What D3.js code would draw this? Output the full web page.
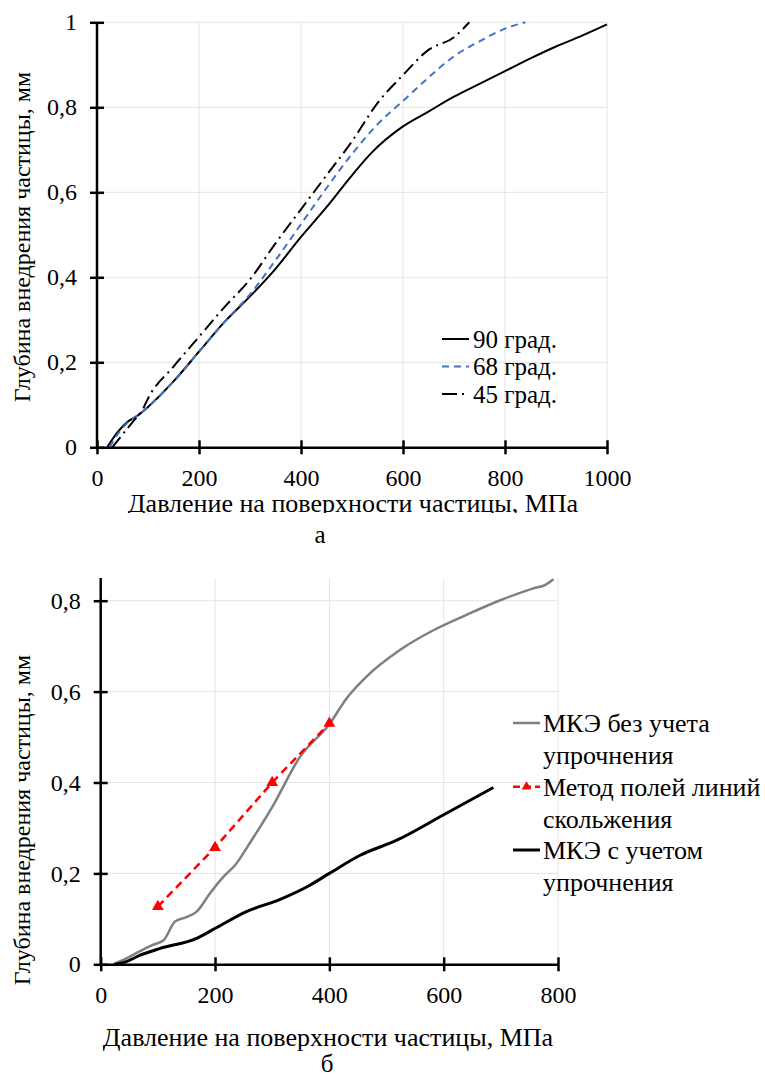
<!DOCTYPE html>
<html>
<head>
<meta charset="utf-8">
<script src="https://cdn.jsdelivr.net/npm/d3@7"></script>
<style>
  html, body { margin: 0; padding: 0; background: #fff; }
  svg { display: block; }
  svg text { font-family: "Liberation Serif", Tinos, "Times New Roman", "DejaVu Serif", serif !important; fill: #000; }
</style>
</head>
<body>
<svg id="chart" width="765" height="1081"></svg>
<script>
// ---------- Chart (а) data ----------
const aXTicks = [0, 200, 400, 600, 800, 1000];
const aYTicks = [0, 0.2, 0.4, 0.6, 0.8, 1];
const aNames = ["90 град.", "68 град.", "45 град."];
const a90X = [20, 40, 60, 80, 100, 150, 200, 250, 300, 350, 400, 450, 500, 540, 600, 650, 700, 750, 800, 850, 900, 950, 1000];
const a90Y = [0, 0.035, 0.06, 0.075, 0.095, 0.155, 0.225, 0.295, 0.355, 0.42, 0.495, 0.565, 0.64, 0.695, 0.755, 0.79, 0.825, 0.855, 0.885, 0.915, 0.943, 0.968, 0.995];
const a68X = [25, 40, 60, 80, 100, 150, 200, 250, 300, 350, 400, 450, 500, 550, 600, 650, 700, 750, 800, 840];
const a68Y = [0, 0.03, 0.058, 0.075, 0.095, 0.155, 0.225, 0.295, 0.36, 0.44, 0.525, 0.61, 0.69, 0.76, 0.815, 0.87, 0.92, 0.955, 0.985, 1.0];
const a45X = [30, 50, 70, 90, 100, 150, 200, 250, 300, 350, 400, 450, 500, 550, 600, 650, 700, 730];
const a45Y = [0, 0.03, 0.06, 0.09, 0.115, 0.19, 0.26, 0.33, 0.395, 0.48, 0.56, 0.64, 0.72, 0.81, 0.876, 0.935, 0.965, 1.0];

// ---------- Chart (б) data ----------
const bXTicks = [0, 200, 400, 600, 800];
const bYTicks = [0, 0.2, 0.4, 0.6, 0.8];
const bNames = [["МКЭ без учета", "упрочнения"], ["Метод полей линий", "скольжения"], ["МКЭ с учетом", "упрочнения"]];
const bFreeX = [22, 45, 69, 90, 110, 130, 150, 168, 191, 215, 235, 264, 300, 349, 401, 430, 465, 524, 582, 640, 699, 757, 778, 792];
const bFreeY = [0, 0.013, 0.029, 0.042, 0.053, 0.094, 0.104, 0.116, 0.156, 0.193, 0.218, 0.273, 0.346, 0.457, 0.530, 0.585, 0.633, 0.692, 0.735, 0.769, 0.801, 0.827, 0.835, 0.847];
const bSlipX = [100, 200, 300, 400];
const bSlipY = [0.127, 0.257, 0.40, 0.53];
const bHardX = [25, 45, 69, 104, 168, 203, 255, 314, 366, 400, 454, 518, 600, 687];
const bHardY = [0, 0.006, 0.02, 0.035, 0.057, 0.081, 0.116, 0.143, 0.174, 0.2, 0.24, 0.273, 0.329, 0.389];

const FONT = '"Liberation Serif", Tinos, "Times New Roman", "DejaVu Serif", serif';
const fmt = d => String(d).replace(".", ",");
const svg = d3.select("#chart").attr("font-family", FONT);
svg.append("rect").attr("width", 765).attr("height", 1081).attr("fill", "#fff");

function drawAxes(g, x, y, xTicks, yTicks, fontSize, yTop) {
  const [y0] = y.range();
  const xa = g.append("g").attr("transform", `translate(0,${y0})`)
    .call(d3.axisBottom(x).tickValues(xTicks).tickFormat(fmt).tickSizeOuter(0))
    .attr("font-family", FONT).attr("font-size", fontSize);
  xa.select(".domain").attr("stroke", "#000").attr("stroke-width", 2.5);
  xa.selectAll(".tick line").attr("y1", -7).attr("y2", 7).attr("stroke", "#000").attr("stroke-width", 2.5);
  xa.selectAll(".tick text").attr("y", 22).attr("dy", "0.71em").attr("fill", "#000");
  const ya = g.append("g").attr("transform", `translate(${x.range()[0]},0)`)
    .call(d3.axisLeft(y).tickValues(yTicks).tickFormat(fmt).tickSizeOuter(0))
    .attr("font-family", FONT).attr("font-size", fontSize);
  ya.select(".domain").attr("d", `M0,${y0}V${yTop}`).attr("stroke", "#000").attr("stroke-width", 2.5);
  ya.selectAll(".tick line").attr("x1", -7).attr("x2", 7).attr("stroke", "#000").attr("stroke-width", 2.5);
  ya.selectAll(".tick text").attr("x", -20).attr("fill", "#000");
}

// ================= Chart (а) =================
{
  const x = d3.scaleLinear().domain([0, 1000]).range([97, 607]);
  const y = d3.scaleLinear().domain([0, 1]).range([447.3, 22.3]);
  const g = svg.append("g");
  g.append("g").selectAll("line").data(aXTicks.slice(1)).join("line")
    .attr("x1", d => x(d)).attr("x2", d => x(d)).attr("y1", y(1)).attr("y2", y(0))
    .attr("stroke", "#e4e4e4").attr("stroke-width", 1);
  g.append("g").selectAll("line").data(aYTicks.slice(1)).join("line")
    .attr("x1", x(0)).attr("x2", x(1000)).attr("y1", d => y(d)).attr("y2", d => y(d))
    .attr("stroke", "#e4e4e4").attr("stroke-width", 1);
  const line = d3.line().x(d => x(d[0])).y(d => y(d[1])).curve(d3.curveMonotoneX);
  const series = [
    { xs: a90X, ys: a90Y, color: "#000", dash: null, w: 2 },
    { xs: a68X, ys: a68Y, color: "#4472C4", dash: "7,5", w: 2 },
    { xs: a45X, ys: a45Y, color: "#000", dash: "13,5,2,5", w: 2 }
  ];
  series.forEach(s => {
    g.append("path").datum(s.xs.map((v, i) => [v, s.ys[i]]))
      .attr("d", line).attr("fill", "none").attr("stroke", s.color)
      .attr("stroke-width", s.w).attr("stroke-dasharray", s.dash);
  });
  drawAxes(g, x, y, aXTicks, aYTicks, 24, 22.3);
  // legend
  const leg = g.append("g");
  series.forEach((s, i) => {
    const ly = 339 + i * 27.5;
    leg.append("line").attr("x1", 442).attr("x2", 469).attr("y1", ly).attr("y2", ly)
      .attr("stroke", s.color).attr("stroke-width", s.w)
      .attr("stroke-dasharray", i === 1 ? "7,5" : (i === 2 ? "15,5,2,5" : null));
    leg.append("text").attr("x", 473).attr("y", ly).attr("dy", "0.35em")
      .style("font-size", "25px").text(aNames[i]);
  });
  // titles
  svg.append("defs").append("clipPath").attr("id", "clipA")
    .append("rect").attr("x", 0).attr("y", 486).attr("width", 765).attr("height", 27);
  g.append("text").attr("x", 353).attr("y", 512).attr("text-anchor", "middle")
    .attr("clip-path", "url(#clipA)")
    .style("font-size", "26px").text("Давление на поверхности частицы, МПа");
  g.append("text").attr("transform", "translate(30,237) rotate(-90)").attr("text-anchor", "middle")
    .style("font-size", "24px").text("Глубина внедрения частицы, мм");
  g.append("text").attr("x", 320).attr("y", 543).attr("text-anchor", "middle")
    .style("font-size", "25px").text("а");
}

// ================= Chart (б) =================
{
  const x = d3.scaleLinear().domain([0, 800]).range([100.7, 558]);
  const y = d3.scaleLinear().domain([0, 0.8]).range([964.3, 600.7]);
  const g = svg.append("g");
  const yTop = y(0.85);
  g.append("g").selectAll("line").data(bXTicks.slice(1)).join("line")
    .attr("x1", d => x(d)).attr("x2", d => x(d)).attr("y1", yTop).attr("y2", y(0))
    .attr("stroke", "#e4e4e4").attr("stroke-width", 1);
  g.append("g").selectAll("line").data(bYTicks.slice(1)).join("line")
    .attr("x1", x(0)).attr("x2", x(800)).attr("y1", d => y(d)).attr("y2", d => y(d))
    .attr("stroke", "#e4e4e4").attr("stroke-width", 1);

  const lineLin = d3.line().x(d => x(d[0])).y(d => y(d[1]));
  const lineSm = d3.line().x(d => x(d[0])).y(d => y(d[1])).curve(d3.curveMonotoneX);
  g.append("path").datum(bFreeX.map((v, i) => [v, bFreeY[i]]))
    .attr("d", lineSm).attr("fill", "none").attr("stroke", "#7f7f7f").attr("stroke-width", 2.5);
  g.append("path").datum(bHardX.map((v, i) => [v, bHardY[i]]))
    .attr("d", lineSm).attr("fill", "none").attr("stroke", "#000").attr("stroke-width", 3);
  const slip = bSlipX.map((v, i) => [v, bSlipY[i]]);
  g.append("path").datum(slip)
    .attr("d", lineLin).attr("fill", "none").attr("stroke", "#ff0000").attr("stroke-width", 2.5)
    .attr("stroke-dasharray", "8,5");
  const tri = d3.symbol().type(d3.symbolTriangle).size(60);
  g.selectAll("path.tri").data(slip).join("path").attr("class", "tri")
    .attr("d", tri).attr("transform", d => `translate(${x(d[0])},${y(d[1])})`).attr("fill", "#ff0000");

  drawAxes(g, x, y, bXTicks, bYTicks, 24, yTop);

  // legend
  const legY = [723, 786.7, 850];
  const leg = g.append("g");
  legY.forEach((ly, i) => {
    const l = leg.append("line").attr("x1", 513).attr("x2", 540).attr("y1", ly).attr("y2", ly);
    if (i === 0) l.attr("stroke", "#7f7f7f").attr("stroke-width", 2.5);
    if (i === 1) {
      l.attr("stroke", "#ff0000").attr("stroke-width", 2.5).attr("stroke-dasharray", "7,4");
      leg.append("path").attr("d", d3.symbol().type(d3.symbolTriangle).size(40))
        .attr("transform", `translate(526.5,${ly})`).attr("fill", "#ff0000");
    }
    if (i === 2) l.attr("stroke", "#000").attr("stroke-width", 3);
    bNames[i].forEach((t, j) => {
      leg.append("text").attr("x", 543).attr("y", ly + j * 31.7).attr("dy", "0.35em")
        .style("font-size", "26px").text(t);
    });
  });

  g.append("text").attr("x", 328).attr("y", 1046).attr("text-anchor", "middle")
    .style("font-size", "26px").text("Давление на поверхности частицы, МПа");
  g.append("text").attr("transform", "translate(30,820) rotate(-90)").attr("text-anchor", "middle")
    .style("font-size", "24px").text("Глубина внедрения частицы, мм");
  g.append("text").attr("x", 327).attr("y", 1072).attr("text-anchor", "middle")
    .style("font-size", "25px").text("б");
}
</script>
</body>
</html>
